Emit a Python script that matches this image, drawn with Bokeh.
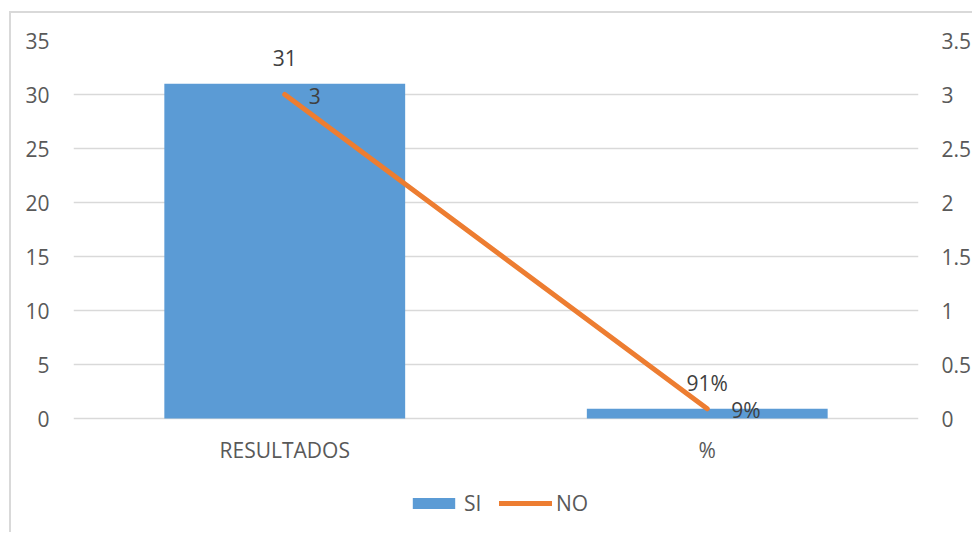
from bokeh.plotting import figure
from bokeh.models import (FactorRange, Range1d, LinearAxis, FixedTicker, ColumnDataSource,
                          LabelSet, Legend, LegendItem)
from bokeh.core.properties import value
from bokeh.embed import file_html
from bokeh.resources import INLINE

# Survey results: bars for "SI" on the left axis, line for "NO" on the right axis
categories = ["RESULTADOS", "%"]
si_values = [31, 0.91]
no_values = [3, 0.09]
si_labels = ["31", "91%"]
no_labels = ["3", "9%"]
left_ticks = [0, 5, 10, 15, 20, 25, 30, 35]
right_ticks = [0, 0.5, 1, 1.5, 2, 2.5, 3, 3.5]
right_tick_labels = ["0", "0.5", "1", "1.5", "2", "2.5", "3", "3.5"]

FONT = "Open Sans"
FONT_SIZE = "21px"
TEXT_COLOR = "#595959"
LABEL_COLOR = "#404040"
GRID_COLOR = "#d9d9d9"
BAR_COLOR = "#5B9BD5"
LINE_COLOR = "#ED7D31"

# Plot area geometry: value axis spans 378 px from 0 to its maximum; the area
# continues 112 px below zero to hold the category labels and the legend.
AXIS_PX = 378.0
BELOW_PX = 112.0
left_max, right_max = left_ticks[-1], right_ticks[-1]
left_min = -BELOW_PX * left_max / AXIS_PX
right_min = -BELOW_PX * right_max / AXIS_PX

source = ColumnDataSource(data=dict(
    cat=categories, si=si_values, no=no_values,
    si_label=si_labels, no_label=no_labels,
    base=[0] * len(categories),
))

p = figure(
    x_range=FactorRange(*categories), y_range=Range1d(left_min, left_max),
    width=963, height=521,
    min_border_left=62, min_border_right=51, min_border_top=27, min_border_bottom=4,
    output_backend="svg", toolbar_location=None,
)
p.styles = {
    "margin-left": "9px", "margin-top": "11px",
    "border-left": "2px solid #d9d9d9", "border-top": "2px solid #d9d9d9",
}
p.outline_line_color = None
p.background_fill_color = "white"
p.border_fill_color = "white"
p.extra_y_ranges = {"sec": Range1d(right_min, right_max)}

# Left axis
yax = p.yaxis[0]
yax.ticker = FixedTicker(ticks=left_ticks)
yax.axis_line_color = None
yax.major_tick_line_color = None
yax.minor_tick_line_color = None
yax.major_label_standoff = 18
yax.major_label_text_font = FONT
yax.major_label_text_font_size = FONT_SIZE
yax.major_label_text_color = TEXT_COLOR

# Right axis
rax = LinearAxis(
    y_range_name="sec",
    ticker=FixedTicker(ticks=right_ticks),
    major_label_overrides=dict(zip(right_ticks, right_tick_labels)),
)
rax.axis_line_color = None
rax.major_tick_line_color = None
rax.minor_tick_line_color = None
rax.major_label_standoff = 17
rax.major_label_text_font = FONT
rax.major_label_text_font_size = FONT_SIZE
rax.major_label_text_color = TEXT_COLOR
p.add_layout(rax, "right")

# Categories are labelled just under the zero line
p.xaxis.visible = False
p.xgrid.visible = False
p.ygrid.ticker = FixedTicker(ticks=left_ticks)
p.ygrid.grid_line_color = GRID_COLOR
p.ygrid.grid_line_width = 1.5

bars = p.vbar(x="cat", top="si", bottom="base", width=0.57, source=source,
              fill_color=BAR_COLOR, line_color=None)
line = p.line(x="cat", y="no", source=source, y_range_name="sec",
              line_color=LINE_COLOR, line_width=5, line_cap="round", line_join="round")

cat_text = LabelSet(x="cat", y="base", text="cat", source=source,
                    text_align="center", text_baseline="alphabetic", y_offset=-39,
                    text_font=value(FONT), text_font_size=FONT_SIZE, text_color=TEXT_COLOR)
si_text = LabelSet(x="cat", y="si", text="si_label", source=source,
                   text_align="center", text_baseline="alphabetic", y_offset=18,
                   text_font=value(FONT), text_font_size=FONT_SIZE, text_color=LABEL_COLOR)
no_text = LabelSet(x="cat", y="no", text="no_label", source=source, y_range_name="sec",
                   text_align="left", text_baseline="alphabetic", x_offset=24, y_offset=-9,
                   text_font=value(FONT), text_font_size=FONT_SIZE, text_color=LABEL_COLOR)
p.add_layout(cat_text)
p.add_layout(si_text)
p.add_layout(no_text)

legend = Legend(
    items=[LegendItem(label="SI", renderers=[bars]), LegendItem(label="NO", renderers=[line])],
    orientation="horizontal", location=(334, 13),
    glyph_width=53, glyph_height=14, label_standoff=4, spacing=15,
    padding=0, margin=0, border_line_color=None, background_fill_alpha=0,
    label_text_font=FONT, label_text_font_size=FONT_SIZE, label_text_color=TEXT_COLOR,
)
p.add_layout(legend)

open("out.html", "w").write(file_html(p, INLINE))
